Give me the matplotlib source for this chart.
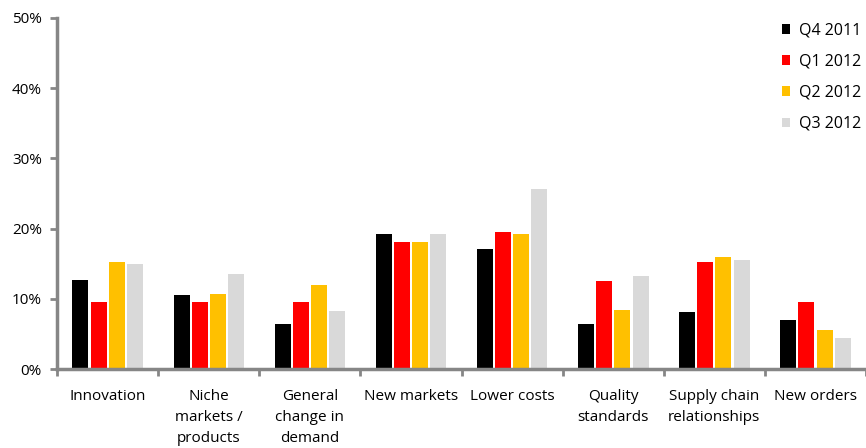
import numpy as np
import matplotlib.pyplot as plt
from matplotlib.ticker import FixedLocator, PercentFormatter

categories = ["Innovation", "Niche\nmarkets /\nproducts", "General\nchange in\ndemand",
              "New markets", "Lower costs", "Quality\nstandards",
              "Supply chain\nrelationships", "New orders"]
series = ["Q4 2011", "Q1 2012", "Q2 2012", "Q3 2012"]
q4_2011 = [12.7, 10.5, 6.4, 19.3, 17.1, 6.4, 8.1, 7.0]
q1_2012 = [9.5, 9.5, 9.5, 18.1, 19.5, 12.5, 15.3, 9.5]
q2_2012 = [15.2, 10.7, 12.0, 18.1, 19.3, 8.4, 15.9, 5.6]
q3_2012 = [14.9, 13.5, 8.3, 19.3, 25.6, 13.3, 15.5, 4.5]
colors = ["#000000", "#ff0000", "#ffc000", "#d9d9d9"]

plt.rcParams['font.family'] = ['Open Sans', 'DejaVu Sans']

fig = plt.figure(figsize=(8.66, 4.48), dpi=100)
ax = fig.add_axes([0.066, 0.176, 0.934, 0.784])

x = np.arange(len(categories))
step = 0.18
width = 0.158
for i, (vals, lab, c) in enumerate(zip([q4_2011, q1_2012, q2_2012, q3_2012], series, colors)):
    ax.bar(x + (i - 1.5) * step, vals, width, color=c, label=lab)

ax.set_xlim(-0.5, len(categories) - 0.5)
ax.set_ylim(0, 50)
ax.set_yticks(np.arange(0, 51, 10))
ax.yaxis.set_major_formatter(PercentFormatter(decimals=0))

ax.set_xticks(x)
ax.set_xticklabels(categories, fontsize=11, linespacing=1.55)
ax.xaxis.set_minor_locator(FixedLocator(np.arange(-0.5, len(categories), 1)))
ax.tick_params(axis='x', which='major', length=0, pad=14)
ax.tick_params(axis='x', which='minor', length=5, width=2, color='#868686', direction='out')
ax.tick_params(axis='y', length=5, width=2, color='#868686', labelsize=11, pad=6)

for s in ['top', 'right']:
    ax.spines[s].set_visible(False)
for s in ['left', 'bottom']:
    ax.spines[s].set_color('#868686')
    ax.spines[s].set_linewidth(2.5)

ax.legend(loc='upper right', bbox_to_anchor=(1.012, 1.028), frameon=False, fontsize=11.5,
          handlelength=0.55, handleheight=0.55, handletextpad=0.55, labelspacing=0.95)

fig.savefig("out.png", dpi=100)
